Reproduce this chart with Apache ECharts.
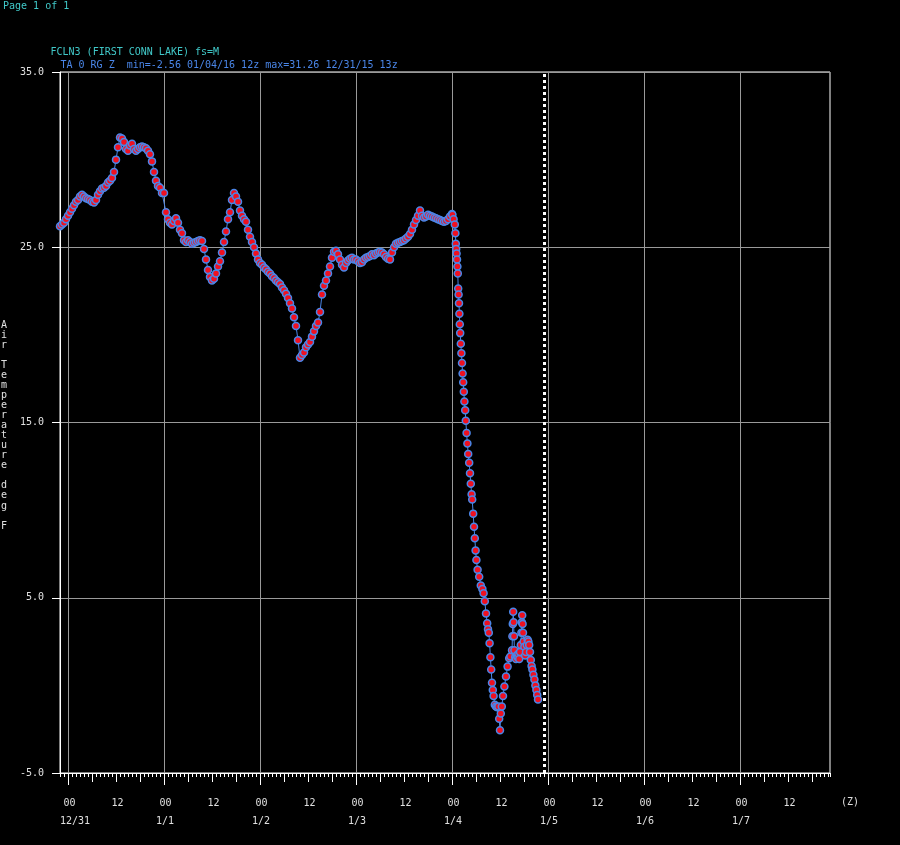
<!DOCTYPE html>
<html><head><meta charset="utf-8">
<script src="https://cdn.jsdelivr.net/npm/echarts@6/dist/echarts.min.js"></script>
<style>html,body{margin:0;padding:0;background:#000;}#c{width:900px;height:845px;}</style>
</head><body><div id="c"></div><script>
// hours are counted from 2015-12-31 00Z
const startHour = -2;
const stepHours = 0.5;
const halfHourlyTemps = [
  26.2, 26.3, 26.4, 26.6,
  // 12/31 00z - 11:30z
  26.8, 27.0, 27.2, 27.4, 27.6, 27.7, 27.9, 28.0, 27.9, 27.8, 27.75, 27.7,
  27.6, 27.55, 27.7, 28.0, 28.2, 28.35, 28.4, 28.5, 28.7, 28.8, 28.95, 29.3,
  // 12/31 12z - 23:30z
  30.0, 30.7, 31.26, 31.2, 31.0, 30.6, 30.5, 30.8, 30.9, 30.6, 30.5, 30.6,
  30.7, 30.75, 30.7, 30.65, 30.5, 30.3, 29.9, 29.3, 28.8, 28.5, 28.4, 28.1,
  // 1/1 00z - 11:30z
  28.1, 27.0, 26.6, 26.4, 26.3, 26.5, 26.65, 26.4, 26.0, 25.8, 25.4, 25.3,
  25.4, 25.3, 25.2, 25.25, 25.3, 25.35, 25.4, 25.35, 24.9, 24.3, 23.7, 23.3,
  // 1/1 12z - 23:30z
  23.1, 23.2, 23.5, 23.9, 24.2, 24.7, 25.3, 25.9, 26.6, 27.0, 27.7, 28.1,
  27.9, 27.6, 27.1, 26.8, 26.6, 26.45, 26.0, 25.6, 25.3, 25.0, 24.65, 24.3,
  // 1/2 00z - 11:30z
  24.1, 24.0, 23.85, 23.75, 23.6, 23.5, 23.35, 23.25, 23.1, 23.0, 22.9, 22.7,
  22.55, 22.35, 22.1, 21.8, 21.5, 21.0, 20.5, 19.7, 18.7, 18.85, 19.0, 19.3,
  // 1/2 12z - 23:30z
  19.45, 19.6, 19.9, 20.2, 20.5, 20.7, 21.3, 22.3, 22.8, 23.1, 23.5, 23.9,
  24.4, 24.75, 24.8, 24.6, 24.3, 24.0, 23.85, 24.1, 24.25, 24.35, 24.4, 24.3,
  // 1/3 00z - 11:30z
  24.3, 24.2, 24.1, 24.15, 24.3, 24.4, 24.45, 24.5, 24.6, 24.55, 24.65, 24.7,
  24.75, 24.7, 24.6, 24.45, 24.35, 24.3, 24.7, 25.0, 25.2, 25.25, 25.3, 25.35,
  // 1/3 12z - 23:30z
  25.4, 25.5, 25.6, 25.75, 26.0, 26.3, 26.55, 26.8, 27.1, 26.8, 26.7, 26.75,
  26.85, 26.8, 26.75, 26.7, 26.65, 26.6, 26.55, 26.5, 26.45, 26.5, 26.6, 26.75
];
const tailHours = [
  96.0, 96.1, 96.4, 96.7, 96.85, 96.95, 97.05, 97.15, 97.25, 97.35, 97.45,
  97.55, 97.65, 97.75, 97.85, 97.95, 98.05, 98.2, 98.35, 98.5, 98.65, 98.8,
  98.95, 99.1, 99.3, 99.45, 99.65, 99.85, 100.05, 100.3, 100.5, 100.7, 100.9,
  101.05, 101.3, 101.5, 101.7, 101.9, 102.1, 102.4, 102.8, 103.2, 103.6, 103.9,
  104.2, 104.5, 104.8, 105.0, 105.2, 105.4, 105.6, 105.8, 106.0, 106.2, 106.4,
  106.7, 107.0, 107.3, 107.6, 107.8, 108.0, 108.2, 108.45, 108.75, 109.1, 109.5,
  109.9, 110.3, 110.6, 111.0, 111.1, 111.2, 111.3, 111.4, 111.5, 111.6, 111.8,
  112.0, 112.2, 112.4, 112.6, 112.8, 113.0, 113.2, 113.35, 113.45, 113.55, 113.65,
  113.75, 113.9, 114.1, 114.3, 114.5, 114.7, 114.9, 115.1, 115.3, 115.5, 115.7,
  115.9, 116.1, 116.35, 116.6, 116.85, 117.1, 117.3, 117.5
];
const tailTemps = [
  26.9, 26.85, 26.6, 26.3, 25.8, 25.2, 24.9, 24.65, 24.3, 23.9, 23.5,
  22.65, 22.3, 21.8, 21.2, 20.6, 20.1, 19.5, 18.95, 18.4, 17.8, 17.3,
  16.75, 16.2, 15.7, 15.1, 14.4, 13.8, 13.2, 12.7, 12.1, 11.5, 10.9,
  10.6, 9.8, 9.05, 8.4, 7.7, 7.15, 6.6, 6.2, 5.7, 5.5, 5.25,
  4.8, 4.1, 3.55, 3.2, 3.0, 2.4, 1.6, 0.9, 0.15, -0.26, -0.6,
  -1.1, -1.2, -1.25, -1.2, -1.9, -2.56, -1.6, -1.2, -0.6, -0.07, 0.5,
  1.07, 1.55, 1.65, 2.0, 2.8, 3.5, 4.2, 3.6, 2.8, 2.0, 1.6,
  1.5, 1.7, 1.6, 1.8, 1.5, 1.9, 2.3, 3.0, 3.6, 4.0, 3.5,
  3.0, 2.5, 2.2, 1.7, 1.9, 2.3, 2.6, 2.5, 2.3, 1.9, 1.45,
  1.1, 0.9, 0.6, 0.33, 0.0, -0.26, -0.55, -0.8
];
const nowHour = 119;
const dateLabels = ['12/31', '1/1', '1/2', '1/3', '1/4', '1/5', '1/6', '1/7'];
const hourLabels = ['00', '12'];
const yAxisNameText = 'Air Temperature deg F';
const titleLine1 = 'FCLN3 (FIRST CONN LAKE) fs=M';
const titleLine2 = 'TA 0 RG Z  min=-2.56 01/04/16 12z max=31.26 12/31/15 13z';

const data = halfHourlyTemps.map((v, i) => [startHour + i * stepHours, v])
  .concat(tailHours.map((h, i) => [h, tailTemps[i]]));

const FONT = 'DejaVu Sans Mono';
const TXT = '#e0e0e0';
const GRIDC = '#9a9a9a';
const TOP = 72, HEIGHT = 701;

const chart = echarts.init(document.getElementById('c'), null, {renderer: 'canvas'});
const hiddenY = (gi) => ({gridIndex: gi, type: 'value', min: -5, max: 35, show: false});
const option = {
  backgroundColor: '#000',
  animation: false,
  grid: [
    {left: 60, top: TOP, width: 770, height: HEIGHT, show: true, borderColor: '#fff', borderWidth: 1, backgroundColor: 'transparent'},
    {left: 68, top: TOP, width: 744, height: HEIGHT},
    {left: 68, top: TOP, width: 672, height: HEIGHT},
    {left: 63.5, top: TOP, width: 720, height: HEIGHT},
    {left: 60, top: TOP, width: 672, height: HEIGHT}
  ],
  xAxis: [
    {gridIndex: 0, type: 'value', min: -2, max: 190.5, interval: 1,
      axisLine: {show: true, onZero: false, lineStyle: {color: '#fff', width: 1}},
      axisTick: {show: true, length: 4, lineStyle: {color: '#fff'}},
      axisLabel: {show: false}, splitLine: {show: false}},
    {gridIndex: 1, type: 'value', min: 0, max: 186, interval: 6,
      axisLine: {show: false, onZero: false},
      axisTick: {show: true, length: 9, lineStyle: {color: '#fff'}},
      axisLabel: {show: false}, splitLine: {show: false}},
    {gridIndex: 2, type: 'value', min: 0, max: 168, interval: 24,
      axisLine: {show: false, onZero: false},
      axisTick: {show: true, length: 12, lineStyle: {color: '#fff'}},
      axisLabel: {show: false},
      splitLine: {show: true, lineStyle: {color: GRIDC, width: 1}}},
    {gridIndex: 3, type: 'value', min: 0, max: 180, interval: 12,
      axisLine: {show: false, onZero: false}, axisTick: {show: false}, splitLine: {show: false},
      axisLabel: {show: true, formatter: (v) => hourLabels[Math.round(v / 12) % 2],
        align: 'left', verticalAlign: 'middle', margin: 30,
        color: TXT, fontFamily: FONT, fontSize: 10}},
    {gridIndex: 4, type: 'value', min: 0, max: 168, interval: 24,
      axisLine: {show: false, onZero: false}, axisTick: {show: false}, splitLine: {show: false},
      axisLabel: {show: true, formatter: (v) => dateLabels[Math.round(v / 24)] || '',
        align: 'left', verticalAlign: 'middle', margin: 48,
        color: TXT, fontFamily: FONT, fontSize: 10}}
  ],
  yAxis: [
    {gridIndex: 0, type: 'value', min: -5, max: 35, interval: 10,
      axisLine: {show: true, onZero: false, lineStyle: {color: '#fff'}},
      axisTick: {show: true, length: 8, lineStyle: {color: '#fff'}},
      axisLabel: {show: true, formatter: (v) => v.toFixed(1), margin: 16,
        color: TXT, fontFamily: FONT, fontSize: 10},
      splitLine: {show: true, lineStyle: {color: GRIDC, width: 1}}},
    hiddenY(1), hiddenY(2), hiddenY(3), hiddenY(4)
  ],
  series: [{
    type: 'line', xAxisIndex: 0, yAxisIndex: 0, data: data,
    symbol: 'circle', symbolSize: 7, showSymbol: true, showAllSymbol: true,
    clip: false, z: 5,
    lineStyle: {color: '#4a86e8', width: 1},
    itemStyle: {color: '#f01020', borderColor: '#4a86e8', borderWidth: 1.5},
    markLine: {silent: true, symbol: ['none', 'none'], label: {show: false},
      lineStyle: {color: '#fff', width: 3, type: [3, 3]},
      data: [{xAxis: nowHour}]}
  }],
  graphic: [
    {type: 'text', left: 3, top: 1, style: {text: 'Page 1 of 1', fill: '#40c8c8', font: '10px "' + FONT + '"'}},
    {type: 'text', left: 50.5, top: 47, style: {text: titleLine1, fill: '#40c8c8', font: '10px "' + FONT + '"'}},
    {type: 'text', left: 60.5, top: 60.5, style: {text: titleLine2, fill: '#4a86e8', font: '10px "' + FONT + '"'}},
    {type: 'text', left: 1, top: 320, style: {text: yAxisNameText.split('').join('\n'), fill: TXT,
      font: '10px "' + FONT + '"', lineHeight: 10.05}},
    {type: 'text', left: 841, top: 797, style: {text: '(Z)', fill: TXT, font: '10px "' + FONT + '"'}}
  ]
};
chart.setOption(option);
</script></body></html>
